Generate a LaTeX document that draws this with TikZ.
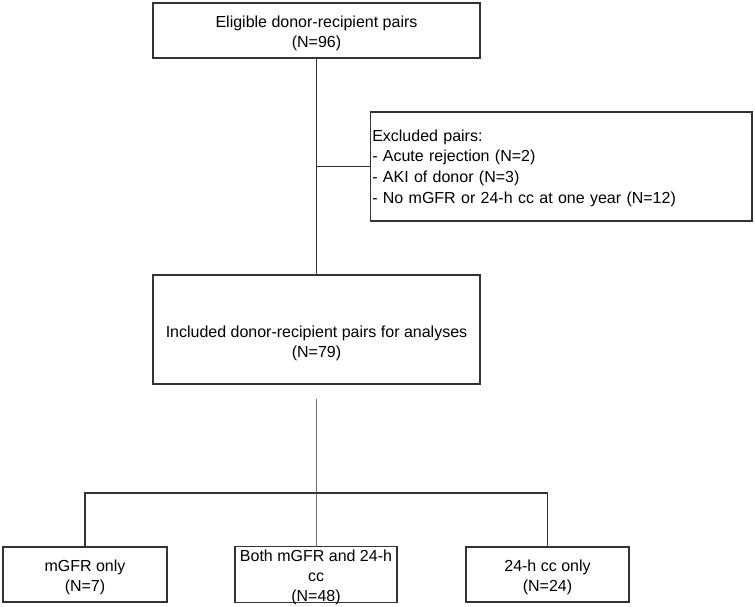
\documentclass[tikz,border=0pt]{standalone}
\usepackage{fontspec}
\setmainfont{Liberation Sans}
\usetikzlibrary{positioning}
% raises the top of the first text line, so the text sits a little lower
\newcommand{\toprule}[1][17pt]{\rule{0pt}{#1}}

\begin{document}
\begin{tikzpicture}[x=1pt, y=-1pt,
    box/.style={draw=black!80, line width=1.1pt, align=center, inner sep=0pt,
      font=\fontsize{16}{20}\selectfont},
    link/.style={draw=black!80, line width=1.1pt},
    thinlink/.style={draw=black!55, line width=0.8pt}]
  \useasboundingbox (0,0) rectangle (755,606);
  % Study flow: eligible, excluded, included
  \node[box, minimum width=327pt, minimum height=55pt] (elig) at (316.5,30.5)
    {\toprule Eligible donor-recipient pairs\\(N=96)};
  \node[box, align=left, text width=378pt, inner xsep=1.5pt,
    font=\fontsize{16}{20.7}\selectfont,
    minimum width=381.5pt, minimum height=109pt] (excl) at (561.25,166.5)
    {\toprule[15pt]Excluded pairs:\\- Acute rejection (N=2)\\- AKI of donor (N=3)\\- No mGFR or 24-h cc at one year (N=12)};
  \node[box, minimum width=327pt, minimum height=109pt] (incl) at (316.5,329.5)
    {\toprule[19pt]\\Included donor-recipient pairs for analyses\\(N=79)};
  % Measurement groups
  \node[box, minimum width=164pt, minimum height=55pt] (mgfr) at (85,574.5)
    {\toprule mGFR only\\(N=7)};
  \node[box, inner ysep=-2.5pt, minimum width=162pt, minimum height=55pt] (both) at (316,574.5)
    {\toprule Both mGFR and 24-h\\cc\\(N=48)};
  \node[box, minimum width=163pt, minimum height=55pt] (cc) at (547.5,574.5)
    {\toprule 24-h cc only\\(N=24)};
  % Connectors
  \coordinate (gap) at (316,399);
  \coordinate (bar) at (316,493);
  \draw[link] (elig) -- (incl);
  \draw[link] (elig.south |- excl.west) -- (excl.west);
  \draw[thinlink] (gap) -- (both.north);
  \draw[link] (mgfr.north) -- (mgfr.north |- bar) -- (cc.north |- bar) -- (cc.north);
\end{tikzpicture}
\end{document}
